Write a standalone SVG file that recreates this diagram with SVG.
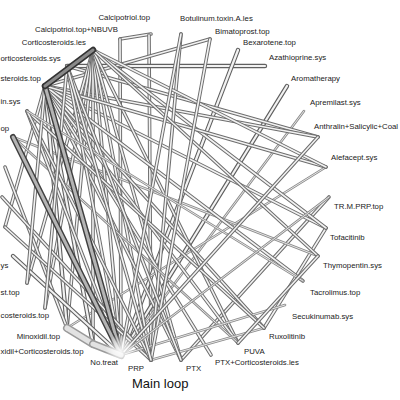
<svg xmlns="http://www.w3.org/2000/svg" width="400" height="400" viewBox="0 0 400 400">
<style>
text{font-family:"Liberation Sans",Arial,sans-serif;font-size:7.8px;fill:#222}
.r{text-anchor:start}.l{text-anchor:end}
.title{font-size:13px;fill:#111}
line{stroke-linecap:round;fill:none}
.a line{stroke:#8c8c8c;stroke-width:2.6}.a line.i{stroke:#e6e6e6;stroke-width:1}
.b line{stroke:#6d6d6d;stroke-width:3.6}.b line.i{stroke:#f2f2f2;stroke-width:1.6}
.c line{stroke:#606060;stroke-width:4.4}.c line.i{stroke:#f2f2f2;stroke-width:2.2}
.d line{stroke:#404040;stroke-width:6}.d line.i{stroke:#b4b4b4;stroke-width:3}
.k line{stroke:#333;stroke-width:6.5}.k line.i{stroke:#8a8a8a;stroke-width:3}
.e line{stroke:#9a9a9a;stroke-width:8}.e line.i{stroke:#e2e2e2;stroke-width:5}
</style>
<defs>
<radialGradient id="glow"><stop offset="0" stop-color="#fff" stop-opacity="0.95"/><stop offset="0.5" stop-color="#fff" stop-opacity="0.6"/><stop offset="1" stop-color="#fff" stop-opacity="0"/></radialGradient>
</defs>
<rect width="400" height="400" fill="#fff"/>
<g id="connectors">
<g class="b"><line x1="120" y1="39" x2="151" y2="34"/><line class="i" x1="120" y1="39" x2="151" y2="34"/></g>
<g class="b"><line x1="149" y1="35" x2="151" y2="360"/><line class="i" x1="149" y1="35" x2="151" y2="360"/></g>
<g class="b"><line x1="120" y1="39" x2="121" y2="355"/><line class="i" x1="120" y1="39" x2="121" y2="355"/></g>
<g class="c"><line x1="67" y1="66" x2="265" y2="66"/><line class="i" x1="67" y1="66" x2="265" y2="66"/></g>
<g class="b"><line x1="45" y1="86" x2="210" y2="39"/><line class="i" x1="45" y1="86" x2="210" y2="39"/></g>
<g class="c"><line x1="238" y1="50" x2="121" y2="355"/><line class="i" x1="238" y1="50" x2="121" y2="355"/></g>
<g class="c"><line x1="287" y1="86" x2="121" y2="355"/><line class="i" x1="287" y1="86" x2="121" y2="355"/></g>
<g class="a"><line x1="304" y1="111" x2="121" y2="355"/><line class="i" x1="304" y1="111" x2="121" y2="355"/></g>
<g class="b"><line x1="318" y1="137" x2="67" y2="66"/><line class="i" x1="318" y1="137" x2="67" y2="66"/></g>
<g class="b"><line x1="318" y1="137" x2="45" y2="86"/><line class="i" x1="318" y1="137" x2="45" y2="86"/></g>
<g class="b"><line x1="329" y1="197" x2="181" y2="360"/><line class="i" x1="329" y1="197" x2="181" y2="360"/></g>
<g class="a"><line x1="326" y1="167" x2="67" y2="328"/><line class="i" x1="326" y1="167" x2="67" y2="328"/></g>
<g class="b"><line x1="326" y1="228" x2="264" y2="328"/><line class="i" x1="326" y1="228" x2="264" y2="328"/></g>
<g class="a"><line x1="318" y1="256" x2="13" y2="137"/><line class="i" x1="318" y1="256" x2="13" y2="137"/></g>
<g class="b"><line x1="326" y1="228" x2="45" y2="86"/><line class="i" x1="326" y1="228" x2="45" y2="86"/></g>
<g class="b"><line x1="326" y1="228" x2="93" y2="50"/><line class="i" x1="326" y1="228" x2="93" y2="50"/></g>
<g class="b"><line x1="93" y1="50" x2="27" y2="283"/><line class="i" x1="93" y1="50" x2="27" y2="283"/></g>
<g class="b"><line x1="93" y1="50" x2="45" y2="308"/><line class="i" x1="93" y1="50" x2="45" y2="308"/></g>
<g class="b"><line x1="93" y1="50" x2="67" y2="328"/><line class="i" x1="93" y1="50" x2="67" y2="328"/></g>
<g class="b"><line x1="93" y1="50" x2="93" y2="344"/><line class="i" x1="93" y1="50" x2="93" y2="344"/></g>
<g class="b"><line x1="93" y1="50" x2="121" y2="355"/><line class="i" x1="93" y1="50" x2="121" y2="355"/></g>
<g class="b"><line x1="93" y1="50" x2="151" y2="360"/><line class="i" x1="93" y1="50" x2="151" y2="360"/></g>
<g class="b"><line x1="93" y1="50" x2="181" y2="360"/><line class="i" x1="93" y1="50" x2="181" y2="360"/></g>
<g class="b"><line x1="93" y1="50" x2="238" y2="343"/><line class="i" x1="93" y1="50" x2="238" y2="343"/></g>
<g class="b"><line x1="45" y1="86" x2="181" y2="360"/><line class="i" x1="45" y1="86" x2="181" y2="360"/></g>
<g class="b"><line x1="45" y1="86" x2="211" y2="355"/><line class="i" x1="45" y1="86" x2="211" y2="355"/></g>
<g class="b"><line x1="45" y1="86" x2="238" y2="343"/><line class="i" x1="45" y1="86" x2="238" y2="343"/></g>
<g class="b"><line x1="45" y1="86" x2="264" y2="328"/><line class="i" x1="45" y1="86" x2="264" y2="328"/></g>
<g class="b"><line x1="45" y1="86" x2="303" y2="281"/><line class="i" x1="45" y1="86" x2="303" y2="281"/></g>
<g class="b"><line x1="45" y1="86" x2="326" y2="167"/><line class="i" x1="45" y1="86" x2="326" y2="167"/></g>
<g class="b"><line x1="45" y1="86" x2="5" y2="227"/><line class="i" x1="45" y1="86" x2="5" y2="227"/></g>
<g class="c"><line x1="45" y1="86" x2="67" y2="328"/><line class="i" x1="45" y1="86" x2="67" y2="328"/></g>
<g class="c"><line x1="45" y1="86" x2="93" y2="344"/><line class="i" x1="45" y1="86" x2="93" y2="344"/></g>
<g class="b"><line x1="181" y1="34" x2="151" y2="360"/><line class="i" x1="181" y1="34" x2="151" y2="360"/></g>
<g class="a"><line x1="238" y1="343" x2="13" y2="137"/><line class="i" x1="238" y1="343" x2="13" y2="137"/></g>
<g class="b"><line x1="27" y1="111" x2="121" y2="355"/><line class="i" x1="27" y1="111" x2="121" y2="355"/></g>
<g class="b"><line x1="67" y1="66" x2="121" y2="355"/><line class="i" x1="67" y1="66" x2="121" y2="355"/></g>
<g class="b"><line x1="5" y1="167" x2="67" y2="328"/><line class="i" x1="5" y1="167" x2="67" y2="328"/></g>
<g class="b"><line x1="2" y1="197" x2="151" y2="360"/><line class="i" x1="2" y1="197" x2="151" y2="360"/></g>
<g class="b"><line x1="5" y1="227" x2="151" y2="360"/><line class="i" x1="5" y1="227" x2="151" y2="360"/></g>
<g class="c"><line x1="13" y1="256" x2="121" y2="355"/><line class="i" x1="13" y1="256" x2="121" y2="355"/></g>
<g class="a"><line x1="121" y1="355" x2="285" y2="305"/><line class="i" x1="121" y1="355" x2="285" y2="305"/></g>
<g class="a"><line x1="151" y1="360" x2="264" y2="328"/><line class="i" x1="151" y1="360" x2="264" y2="328"/></g>
<g class="b"><line x1="264" y1="328" x2="27" y2="111"/><line class="i" x1="264" y1="328" x2="27" y2="111"/></g>
<g class="b"><line x1="93" y1="50" x2="326" y2="167"/><line class="i" x1="93" y1="50" x2="326" y2="167"/></g>
<g class="b"><line x1="93" y1="50" x2="318" y2="256"/><line class="i" x1="93" y1="50" x2="318" y2="256"/></g>
<g class="b"><line x1="181" y1="360" x2="67" y2="66"/><line class="i" x1="181" y1="360" x2="67" y2="66"/></g>
<g class="b"><line x1="210" y1="39" x2="151" y2="360"/><line class="i" x1="210" y1="39" x2="151" y2="360"/></g>
<g class="b"><line x1="181" y1="34" x2="121" y2="355"/><line class="i" x1="181" y1="34" x2="121" y2="355"/></g>
<g class="b"><line x1="27" y1="111" x2="151" y2="360"/><line class="i" x1="27" y1="111" x2="151" y2="360"/></g>
<g class="b"><line x1="27" y1="283" x2="45" y2="86"/><line class="i" x1="27" y1="283" x2="45" y2="86"/></g>
<g class="b"><line x1="45" y1="308" x2="67" y2="66"/><line class="i" x1="45" y1="308" x2="67" y2="66"/></g>
<g class="a"><line x1="303" y1="281" x2="27" y2="111"/><line class="i" x1="303" y1="281" x2="27" y2="111"/></g>
<g class="b"><line x1="318" y1="256" x2="238" y2="343"/><line class="i" x1="318" y1="256" x2="238" y2="343"/></g>
<g class="b"><line x1="67" y1="66" x2="151" y2="360"/><line class="i" x1="67" y1="66" x2="151" y2="360"/></g>
<g class="a"><line x1="121" y1="355" x2="329" y2="197"/><line class="i" x1="121" y1="355" x2="329" y2="197"/></g>
<g class="b"><line x1="121" y1="355" x2="318" y2="137"/><line class="i" x1="121" y1="355" x2="318" y2="137"/></g>
<g class="d"><line x1="45" y1="86" x2="121" y2="355"/><line class="i" x1="45" y1="86" x2="121" y2="355"/></g>
<g class="d"><line x1="13" y1="137" x2="121" y2="355"/><line class="i" x1="13" y1="137" x2="121" y2="355"/></g>
<g class="k"><line x1="45" y1="86" x2="93" y2="50"/><line class="i" x1="45" y1="86" x2="93" y2="50"/></g>
<g class="e"><line x1="67" y1="328" x2="93" y2="344"/><line class="i" x1="67" y1="328" x2="93" y2="344"/></g>
<g class="e"><line x1="93" y1="344" x2="121" y2="355"/><line class="i" x1="93" y1="344" x2="121" y2="355"/></g>
<circle cx="121" cy="350" r="16" fill="url(#glow)"/>
</g>
<g id="n-TR.M.PRP.top"><text class="r" x="334" y="209">TR.M.PRP.top</text></g>
<g id="n-Tofacitinib"><text class="r" x="330" y="240">Tofacitinib</text></g>
<g id="n-Thymopentin.sys"><text class="r" x="323" y="268">Thymopentin.sys</text></g>
<g id="n-Tacrolimus.top"><text class="r" x="310" y="295">Tacrolimus.top</text></g>
<g id="n-Secukinumab.sys"><text class="r" x="292" y="319">Secukinumab.sys</text></g>
<g id="n-Ruxolitinib"><text class="r" x="269" y="339">Ruxolitinib</text></g>
<g id="n-PUVA"><text class="r" x="244" y="354">PUVA</text></g>
<g id="n-PTX_Corticosteroids.les"><text class="r" x="215" y="365">PTX+Corticosteroids.les</text></g>
<g id="n-PTX"><text class="r" x="186" y="371">PTX</text></g>
<g id="n-PRP"><text class="l" x="144" y="371">PRP</text></g>
<g id="n-No.treat"><text class="l" x="118" y="365">No.treat</text></g>
<g id="n-Minoxidil_Corticosteroids.top"><text class="r" x="0.5" y="354">xidil+Corticosteroids.top</text></g>
<g id="n-Minoxidil.top"><text class="l" x="60" y="339">Minoxidil.top</text></g>
<g id="n-13"><text class="r" x="0.5" y="318">costeroids.top</text></g>
<g id="n-14"><text class="r" x="0.5" y="295">st.top</text></g>
<g id="n-15"><text class="r" x="0.5" y="268">ys</text></g>
<g id="n-19"><text class="r" x="0.5" y="131">op</text></g>
<g id="n-20"><text class="r" x="0.5" y="104">in.sys</text></g>
<g id="n-Corticosteroids.top"><text class="r" x="0.5" y="81">steroids.top</text></g>
<g id="n-Corticosteroids.sys"><text class="r" x="0.5" y="61">orticosteroids.sys</text></g>
<g id="n-Corticosteroids.les"><text class="l" x="86" y="45">Corticosteroids.les</text></g>
<g id="n-Calcipotriol.top_NBUVB"><text class="l" x="118" y="32">Calcipotriol.top+NBUVB</text></g>
<g id="n-Calcipotriol.top"><text class="l" x="150" y="20">Calcipotriol.top</text></g>
<g id="n-Botulinum.toxin.A.les"><text class="r" x="180" y="21">Botulinum.toxin.A.les</text></g>
<g id="n-Bimatoprost.top"><text class="r" x="215" y="34">Bimatoprost.top</text></g>
<g id="n-Bexarotene.top"><text class="r" x="243" y="45">Bexarotene.top</text></g>
<g id="n-Azathioprine.sys"><text class="r" x="269" y="60">Azathioprine.sys</text></g>
<g id="n-Aromatherapy"><text class="r" x="291" y="81">Aromatherapy</text></g>
<g id="n-Apremilast.sys"><text class="r" x="310" y="105">Apremilast.sys</text></g>
<g id="n-Anthralin"><text class="r" x="314" y="129">Anthralin+Salicylic+Coal</text></g>
<g id="n-Alefacept.sys"><text class="r" x="331" y="160">Alefacept.sys</text></g>
<text class="title" x="132" y="388">Main loop</text>
</svg>
